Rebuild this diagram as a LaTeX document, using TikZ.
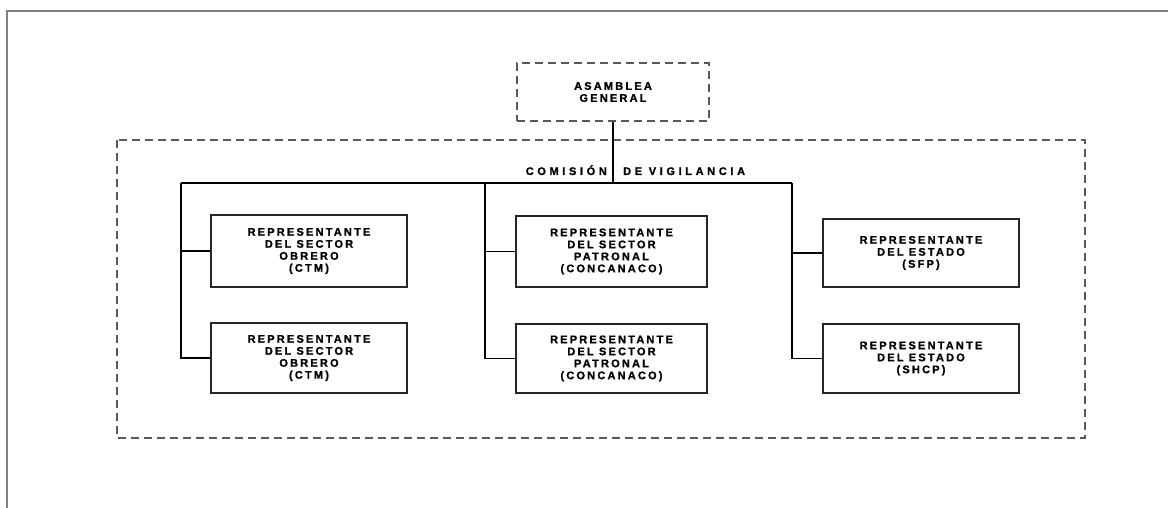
\documentclass[tikz,border=0pt]{standalone}
\usepackage{fontspec}
\setmainfont{Liberation Sans}
\newfontfamily\boxfont{Liberation Sans}[LetterSpace=20,FakeBold=1.2]
\newfontfamily\lblfont{Liberation Sans}[LetterSpace=33,FakeBold=1.2]
\begin{document}
\begin{tikzpicture}[x=1pt,y=-1pt,
  frame/.style={draw=black!50, line width=2.4pt},
  dashbox/.style={draw=black!65, line width=1.5pt, dash pattern=on 8pt off 5pt},
  rep/.style={draw=black!85, line width=1.3pt, align=center, inner sep=0pt,
    font=\boxfont\bfseries\fontsize{11}{12}\selectfont},
  lbl/.style={inner sep=0pt, font=\lblfont\bfseries\fontsize{11}{12}\selectfont},
  conn/.style={draw=black, line width=1.2pt}]
\useasboundingbox (0,0) rectangle (1168,508);
\draw[frame] (7,508) -- (7,11) -- (1168,11);
% dashed boxes
\node[dashbox, rep, draw=black!65, minimum width=192, minimum height=58] (asam) at (613,92) {ASAMBLEA\\GENERAL};
\draw[dashbox] (117,140) rectangle (1085,438);
\node[lbl, anchor=base east] (lc) at (607,175) {COMISIÓN};
\node[lbl, anchor=base west] (lv) at (623,175) {DE VIGILANCIA};
% boxes
\node[rep, minimum width=196, minimum height=72] (o1) at (309,251) {REPRESENTANTE\\DEL SECTOR\\OBRERO\\(CTM)};
\node[rep, minimum width=196, minimum height=70] (o2) at (309,358) {REPRESENTANTE\\DEL SECTOR\\OBRERO\\(CTM)};
\node[rep, minimum width=191, minimum height=71] (p1) at (611.5,251.5) {REPRESENTANTE\\DEL SECTOR\\PATRONAL\\(CONCANACO)};
\node[rep, minimum width=191, minimum height=69] (p2) at (611.5,358.5) {REPRESENTANTE\\DEL SECTOR\\PATRONAL\\(CONCANACO)};
\node[rep, minimum width=196, minimum height=68] (e1) at (921,253) {REPRESENTANTE\\DEL ESTADO\\(SFP)};
\node[rep, minimum width=196, minimum height=69] (e2) at (921,358.5) {REPRESENTANTE\\DEL ESTADO\\(SHCP)};
% connectors
\coordinate (j1) at (181,183);
\coordinate (j2) at (485,183);
\coordinate (j3) at (792,183);
\draw[conn] (asam.south) -- (asam.south |- j2);
\draw[conn] (j1) -- (j3);
\draw[conn] (j1) |- (o2.west);
\draw[conn] (o1.west) -- (o1.west -| j1);
\draw[conn] (j2) |- (p2.west);
\draw[conn] (p1.west) -- (p1.west -| j2);
\draw[conn] (j3) |- (e2.west);
\draw[conn] (e1.west) -- (e1.west -| j3);
\end{tikzpicture}
\end{document}
